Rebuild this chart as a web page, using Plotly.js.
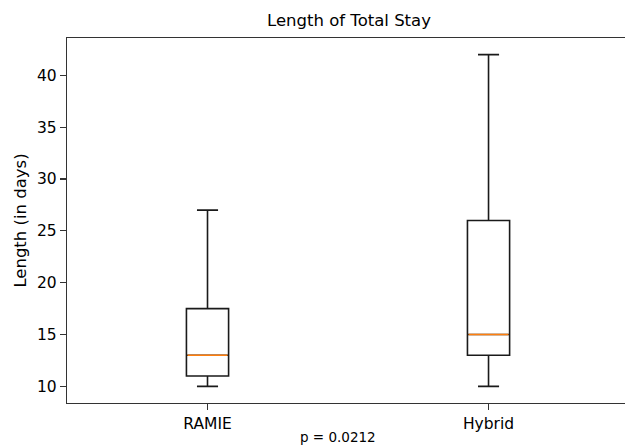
<!DOCTYPE html>
<html><head><meta charset="utf-8">
<script src="https://cdn.plot.ly/plotly-3.0.1.min.js"></script>
<style>html,body{margin:0;padding:0;overflow:hidden;background:#fff;width:625px;height:447px}#wrap{width:625px;height:447px;overflow:hidden;position:relative}</style>
</head><body><div id="wrap"><div id="chart" style="width:640px;height:447px"></div></div>
<script>
const categories = ["RAMIE", "Hybrid"];
const positions = [1, 2];
const lowerWhisker = [10, 10];
const q1 = [11, 13];
const median = [13, 15];
const q3 = [17.5, 26];
const upperWhisker = [27, 42];
const pLabel = "p = 0.0212";

const boxWidth = 0.15;
const traces = [];
traces.push({
  type: 'box', x: positions, q1: q1, median: median, q3: q3,
  lowerfence: lowerWhisker, upperfence: upperWhisker,
  width: boxWidth, whiskerwidth: 0.5, boxpoints: false,
  line: {color: '#1a1a1a', width: 1.6}, fillcolor: 'rgba(0,0,0,0)',
  hoverinfo: 'skip', showlegend: false
});
positions.forEach((p, i) => {
  traces.push({
    type: 'scatter', mode: 'lines',
    x: [p - boxWidth / 2 + 0.004, p + boxWidth / 2 - 0.004], y: [median[i], median[i]],
    line: {color: '#ff7f0e', width: 1.6}, showlegend: false, hoverinfo: 'skip'
  });
});

const F = 'DejaVu Sans';
const W = 640, H = 447;
const layout = {
  width: W, height: H,
  margin: {l: 67, r: 0, t: 38, b: 44},
  paper_bgcolor: '#fff', plot_bgcolor: '#fff',
  font: {family: F, color: '#000'},
  showlegend: false,
  title: {text: 'Length of Total Stay', font: {family: F, size: 16.5, color: '#000'},
          x: 349 / W, xref: 'container', xanchor: 'center',
          y: 1 - 20 / H, yref: 'container', yanchor: 'middle'},
  annotations: [{
    text: pLabel, xref: 'paper', yref: 'paper',
    x: (338 - 67) / (W - 67), y: -(437 - 403) / (403 - 38),
    xanchor: 'center', yanchor: 'middle', showarrow: false,
    font: {family: F, size: 13.5, color: '#000'}
  }],
  xaxis: {
    range: [0.5, 2.539], tickmode: 'array', tickvals: positions, ticktext: categories,
    showgrid: false, zeroline: false, showline: true, mirror: true, linecolor: '#333', linewidth: 1.2,
    ticks: 'outside', ticklen: 6, tickwidth: 1.2, tickcolor: '#333', tickfont: {family: F, size: 15.5, color: '#000'}
  },
  yaxis: {
    range: [8.4, 43.6], tickmode: 'linear', tick0: 10, dtick: 5,
    showgrid: false, zeroline: false, showline: true, mirror: false, linecolor: '#333', linewidth: 1.2,
    ticks: 'outside', ticklen: 6, tickwidth: 1.2, tickcolor: '#333', tickfont: {family: F, size: 15.5, color: '#000'},
    title: {text: 'Length (in days)', font: {family: F, size: 16.5, color: '#000'}, standoff: 6}
  }
};
Plotly.newPlot('chart', traces, layout, {displayModeBar: false, staticPlot: true});
</script></body></html>
